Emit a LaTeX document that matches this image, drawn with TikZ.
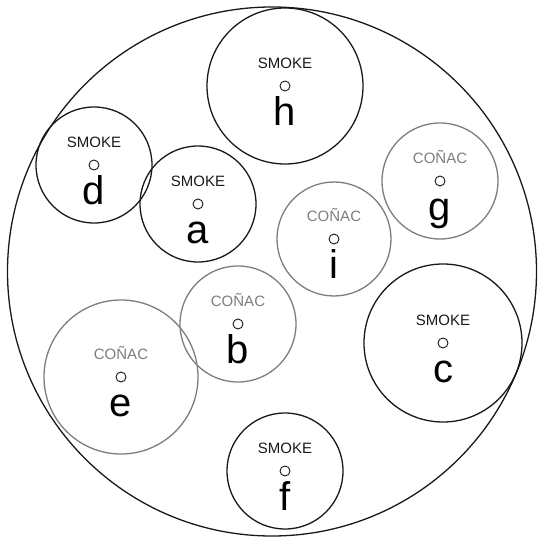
\documentclass[tikz,border=0pt]{standalone}
\usepackage{fontspec}
\setmainfont{Liberation Sans}
\usepackage{tikz}
\usetikzlibrary{positioning}
\definecolor{smokecolor}{RGB}{25,25,25}
\definecolor{conaccolor}{RGB}{125,125,125}

\begin{document}
\begin{tikzpicture}[x=1pt, y=-1pt,
    zone/.style={circle, draw=#1, line width=1.3pt, inner sep=0pt},
    spot/.style={circle, draw=smokecolor, line width=0.9pt, minimum size=10pt, inner sep=0pt},
    brand/.style={font=\fontsize{15}{18}\selectfont, inner sep=0pt},
    tag/.style={font=\fontsize{40}{48}\selectfont, text=black, inner sep=0pt}]
    \useasboundingbox (0,0) rectangle (538,537);

    % Grand cercle
    \node[zone=smokecolor, minimum size=529pt] (plate) at (272,271.5) {};

    % Cercles SMOKE et COÑAC
    \foreach \n/\x/\y/\r/\t/\c in {
        h/285/86/78/SMOKE/smokecolor,
        d/94/165/58/SMOKE/smokecolor,
        a/198/204/58/SMOKE/smokecolor,
        g/440/181/58/COÑAC/conaccolor,
        i/334/239/57/COÑAC/conaccolor,
        b/238/324/58/COÑAC/conaccolor,
        e/121/377/77/COÑAC/conaccolor,
        c/443/343/79/SMOKE/smokecolor,
        f/285/471/58/SMOKE/smokecolor}{
        \node[zone=\c, minimum size={2*\r pt}] (\n) at (\x,\y) {};
        \node[spot] (\n-spot) at (\n.center) {};
        \node[brand, text=\c, above=12pt of \n-spot, anchor=base] (\n-brand) {\t};
        \node[tag, below=34.5pt of \n-spot, anchor=base] (\n-tag) {\n};
    }
\end{tikzpicture}
\end{document}
